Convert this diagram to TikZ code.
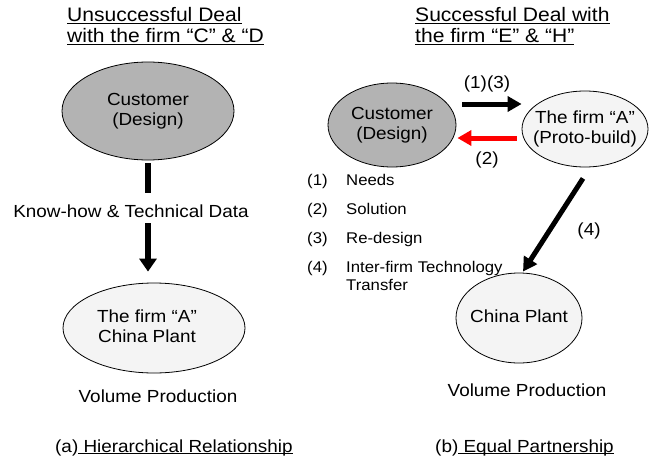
\documentclass[tikz,border=0pt]{standalone}
\usepackage{fontspec}
\setmainfont{Liberation Sans}[FakeStretch=1.08]
\usetikzlibrary{arrows.meta,shapes.geometric}

\definecolor{custgray}{HTML}{B3B3B3}
\definecolor{plantfill}{HTML}{F4F4F4}
\definecolor{solred}{HTML}{FF0000}

% underline drawn just below the baseline (crosses descenders)
\newcommand\ulin[1]{\setbox0\hbox{#1}\rlap{\rule[-2pt]{\wd0}{1.2pt}}\box0}
% centred text of zero width, so the ellipse keeps its given size
\newcommand\zw[1]{\makebox[0pt]{\begin{tabular}{@{}c@{}}#1\end{tabular}}}

\newcommand\titlesize{\fontsize{19.5}{21}\selectfont}
\newcommand\bodysize{\fontsize{17.5}{20}\selectfont}
\newcommand\legendsize{\fontsize{15.5}{18}\selectfont}

\tikzset{
  bubble/.style={ellipse, draw=black, line width=0.8pt, inner sep=0pt, font=\bodysize},
  titletext/.style={inner sep=0pt, anchor=base west, font=\titlesize},
  plain/.style={inner sep=0pt, font=\bodysize},
  legendtext/.style={inner sep=0pt, anchor=base west, font=\legendsize},
  bar/.style={line width=6pt, draw=black},
  bigarrow/.style={line width=6pt, draw=black, -{Triangle[length=13pt,width=17pt]}},
  medarrow/.style={line width=5pt, -{Triangle[length=14pt,width=15pt]}},
}

\begin{document}
\begin{tikzpicture}[x=1pt,y=-1pt]
\useasboundingbox[fill=white] (0,0) rectangle (655,460);

% ---------- (a) hierarchical relationship ----------
\node[titletext] (ltitleA) at (67,22) {\ulin{Unsuccessful Deal}};
\node[titletext] (ltitleB) at (67,43) {\ulin{with the firm “C” \& “D}};

\node[bubble, fill=custgray, minimum width=172pt, minimum height=98pt] (lcust) at (148,111)
  {\zw{Customer\\(Design)}};
\node[plain, anchor=base] (khow) at (131,217) {Know-how \& Technical Data};
\node[bubble, fill=plantfill, minimum width=182pt, minimum height=90pt] (lplant) at (154,328)
  {\zw{\hspace*{-14pt}\begin{tabular}{@{}c@{}}The firm “A”\\China Plant\end{tabular}}};
\node[plain, anchor=base] (lvol) at (158,402) {Volume Production};
\node[plain, anchor=base west] (lcap) at (55,452) {(a)\ulin{\ Hierarchical Relationship}};

\draw[bar, shorten <=3pt, shorten >=11pt] (lcust.south) -- (lcust.south |- khow.north);
\draw[bigarrow, shorten <=6pt, shorten >=11pt] (lcust.south |- khow.south) -- (lcust.south |- lplant.north);

% ---------- (b) equal partnership ----------
\node[titletext] (rtitleA) at (415,22) {\ulin{Successful Deal with}};
\node[titletext] (rtitleB) at (415,43) {\ulin{the firm “E” \& “H”}};

\node[bubble, fill=custgray, minimum width=128pt, minimum height=84pt] (rcust) at (392,125)
  {\zw{Customer\\(Design)}};
\node[bubble, fill=plantfill, minimum width=126pt, minimum height=76pt] (firmA) at (585,129)
  {\zw{The firm “A”\\(Proto-build)}};
\node[bubble, fill=plantfill, minimum width=126pt, minimum height=90pt] (rplant) at (519,318)
  {\zw{China Plant}};

\draw[medarrow, black] ([shift={(6,-21)}]rcust.east) -- ([shift={(0,-25)}]firmA.west);
\draw[medarrow, solred] ([shift={(-5,9)}]firmA.west) -- ([shift={(1,13)}]rcust.east);
\draw[medarrow, black] ([shift={(-2,11)}]firmA.south) -- ([shift={(4,-1)}]rplant.north);

\node[plain, anchor=base] (lblA) at (487,88) {(1)(3)};
\node[plain, anchor=base] (lblB) at (487,164) {(2)};
\node[plain, anchor=base] (lblC) at (589,235) {(4)};

% legend
\node[legendtext] (nA) at (307,185) {(1)};
\node[legendtext] (tA) at (346,185) {Needs};
\node[legendtext] (nB) at (307,214) {(2)};
\node[legendtext] (tB) at (346,214) {Solution};
\node[legendtext] (nC) at (307,243) {(3)};
\node[legendtext] (tC) at (346,243) {Re-design};
\node[legendtext] (nD) at (307,272) {(4)};
\node[legendtext] (tD) at (346,272) {Inter-firm Technology};
\node[legendtext] (tE) at (346,290) {Transfer};

\node[plain, anchor=base] (rvol) at (527,396) {Volume Production};
\node[plain, anchor=base west] (rcap) at (435,452) {(b)\ulin{\ Equal Partnership}};
\end{tikzpicture}
\end{document}
